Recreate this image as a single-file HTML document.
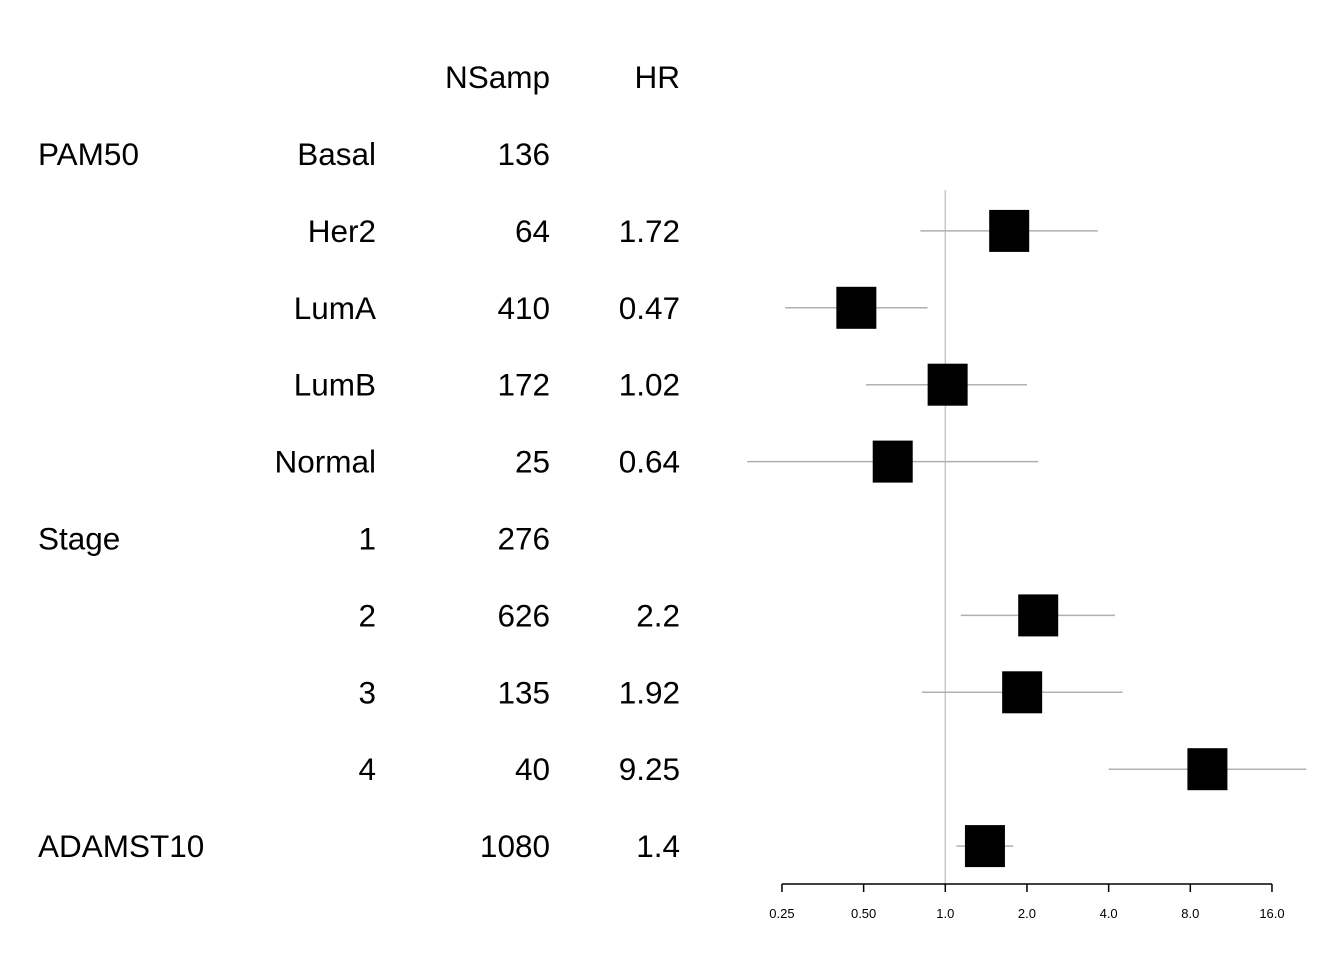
<!DOCTYPE html>
<html><head><meta charset="utf-8"><style>
body{margin:0;background:#fff}
svg text{font-family:"Liberation Sans",Arial,sans-serif}
</style></head><body>
<svg width="1344" height="960" xmlns="http://www.w3.org/2000/svg">
<g id="table" font-size="31.5" fill="#000">
<text x="550" y="88" text-anchor="end">NSamp</text>
<text x="680" y="88" text-anchor="end">HR</text>
</g>
<g id="plot"></g>
<script>
const groups=["PAM50","","","","","Stage","","","","ADAMST10"];
const levels=["Basal","Her2","LumA","LumB","Normal","1","2","3","4",""];
const nsamp=["136","64","410","172","25","276","626","135","40","1080"];
const hrLabels=["","1.72","0.47","1.02","0.64","","2.2","1.92","9.25","1.4"];
const hr=[null,1.72,0.47,1.02,0.64,null,2.2,1.92,9.25,1.4];
const lower=[null,0.81,0.257,0.51,0.186,null,1.14,0.82,4.0,1.1];
const upper=[null,3.65,0.86,2.0,2.2,null,4.22,4.5,21.4,1.78];
const ticks=[0.25,0.5,1,2,4,8,16];
const tickLabels=["0.25","0.50","1.0","2.0","4.0","8.0","16.0"];
const NS="http://www.w3.org/2000/svg";
const X=v=>945.3+Math.log2(v)*81.67;
const Y=i=>154+i*76.9;
const tbl=document.getElementById('table'),plot=document.getElementById('plot');
function mk(tag,attrs,parent,txt){const e=document.createElementNS(NS,tag);for(const k in attrs)e.setAttribute(k,attrs[k]);if(txt!==undefined)e.textContent=txt;parent.appendChild(e);return e;}
groups.forEach((g,i)=>{
 const y=Y(i)+11;
 if(g){const t=mk('text',{x:38,y:y},tbl,g);
 
 }
 if(levels[i]){const t=mk('text',{x:376,y:y,'text-anchor':'end'},tbl,levels[i]);
 
 }
 const n=mk('text',{x:550,y:y,'text-anchor':'end'},tbl,nsamp[i]);
 
 
 if(hrLabels[i]){const h=mk('text',{x:680,y:y,'text-anchor':'end'},tbl,hrLabels[i]);
 
 }
});
const ref=mk('line',{x1:X(1),x2:X(1),y1:190,y2:887,stroke:'#c8c8c8','stroke-width':1.5},plot);


hr.forEach((v,i)=>{
 if(v===null)return;
 const y=Y(i);
 const l=mk('line',{x1:X(lower[i]),x2:X(upper[i]),y1:y,y2:y,stroke:'#b0b0b0','stroke-width':1.5},plot);
 
 
 const r=mk('rect',{x:X(v)-20,y:y-21,width:40,height:42,fill:'#000'},plot);
 
 
});
const ax=mk('line',{x1:X(ticks[0]),x2:X(ticks[ticks.length-1]),y1:884,y2:884,stroke:'#000','stroke-width':1.5},plot);


ticks.forEach((t,i)=>{
 const tk=mk('line',{x1:X(t),x2:X(t),y1:884,y2:892,stroke:'#000','stroke-width':1.5},plot);
 
 
 const tl=mk('text',{x:X(t),y:918,'text-anchor':'middle','font-size':13},plot,tickLabels[i]);
 
 
});
</script>
</svg>
</body></html>
